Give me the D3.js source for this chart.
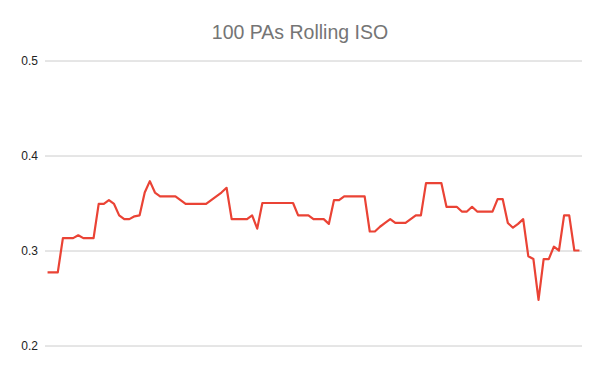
<!DOCTYPE html>
<html>
<head>
<meta charset="utf-8">
<script src="https://cdn.jsdelivr.net/npm/d3@7"></script>
<style>
  html, body { margin: 0; padding: 0; background: #fff; }
  svg { display: block; }
</style>
</head>
<body>
<svg id="chart" width="600" height="371"></svg>
<script>
const title = "100 PAs Rolling ISO";
const yTicks = [0.2, 0.3, 0.4, 0.5];
const iso = [
  0.277, 0.277, 0.277, 0.313, 0.313, 0.313, 0.316, 0.313, 0.313, 0.313,
  0.349, 0.349, 0.353, 0.349, 0.337, 0.333, 0.333, 0.336, 0.337, 0.361,
  0.373, 0.361, 0.357, 0.357, 0.357, 0.357, 0.353, 0.349, 0.349, 0.349,
  0.349, 0.349, 0.353, 0.357, 0.361, 0.366, 0.333, 0.333, 0.333, 0.333,
  0.337, 0.323, 0.350, 0.350, 0.350, 0.350, 0.350, 0.350, 0.350, 0.337,
  0.337, 0.337, 0.333, 0.333, 0.333, 0.328, 0.353, 0.353, 0.357, 0.357,
  0.357, 0.357, 0.357, 0.320, 0.320, 0.325, 0.329, 0.333, 0.329, 0.329,
  0.329, 0.333, 0.337, 0.337, 0.371, 0.371, 0.371, 0.371, 0.346, 0.346,
  0.346, 0.341, 0.341, 0.346, 0.341, 0.341, 0.341, 0.341, 0.354, 0.354,
  0.329, 0.324, 0.328, 0.333, 0.294, 0.291, 0.248, 0.291, 0.291, 0.304,
  0.300, 0.337, 0.337, 0.300, 0.300
];
const categories = iso.map((d, i) => i + 1);

const svg = d3.select("#chart");
const margin = { left: 45, right: 18, top: 61, bottom: 26 };
const W = 600, H = 371;

const x = d3.scalePoint()
  .domain(categories)
  .range([margin.left, W - margin.right])
  .padding(0.5);

const y = d3.scaleLinear()
  .domain([0.2, 0.5])
  .range([345.5, 60.5]);

// title
svg.append("text")
  .attr("x", 300)
  .attr("y", 39)
  .attr("text-anchor", "middle")
  .attr("font-family", "'Liberation Sans', Arial, sans-serif")
  .attr("font-size", 19.5)
  .attr("fill", "#757575")
  .text(title);

// y axis with gridlines
const yAxis = d3.axisLeft(y)
  .tickValues(yTicks)
  .tickFormat(d3.format(".1f"))
  .tickSize(-(W - margin.right - margin.left))
  .tickPadding(7);

const gy = svg.append("g")
  .attr("transform", `translate(${margin.left},0)`)
  .call(yAxis);
gy.select(".domain").remove();
gy.selectAll(".tick line").attr("stroke", "#cccccc").attr("stroke-width", 1);
gy.selectAll(".tick text")
  .attr("font-family", "'Liberation Sans', Arial, sans-serif")
  .attr("font-size", 12)
  .attr("fill", "#222");

// line
const line = d3.line()
  .x((d, i) => x(categories[i]))
  .y(d => y(d));

svg.append("path")
  .datum(iso)
  .attr("fill", "none")
  .attr("stroke", "#ea4335")
  .attr("stroke-width", 2.2)
  .attr("stroke-linejoin", "round")
  .attr("d", line);
</script>
</body>
</html>
